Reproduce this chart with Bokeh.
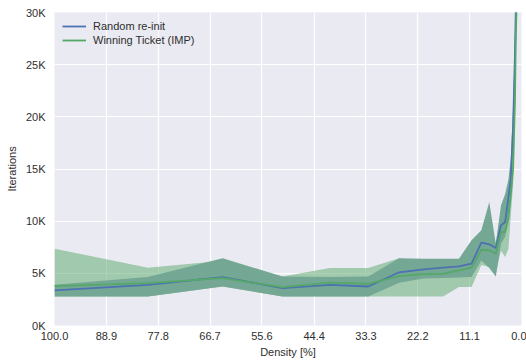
from bokeh.plotting import figure
from bokeh.models import Range1d, FixedTicker, Legend, LegendItem
from bokeh.embed import file_html
from bokeh.resources import INLINE

# Density of the remaining weights after each pruning round [%]
density = [100.0, 80.0, 64.0, 51.2, 41.0, 32.8, 26.2, 21.0, 16.8, 13.4, 10.7,
           8.6, 6.9, 5.5, 4.4, 3.5, 2.8, 2.3, 1.8, 1.4, 1.2, 0.9]

# Random re-init: mean iterations and spread
random_mean = [3360, 3900, 4640, 3580, 3900, 3740, 5100, 5380, 5540, 5660, 5920,
               7940, 7780, 7420, 9600, 9920, 12300, 14000, 19000, 26000, 31000, 37000]
random_low = [2780, 2780, 3740, 2780, 2780, 2780, 4100, 4500, 4550, 4600, 4640,
              6240, 5500, 4700, 7800, 8500, 10500, 12500, 17500, 24000, 29500, 35000]
random_high = [3900, 4640, 6450, 4700, 4650, 4700, 6450, 6400, 6400, 6400, 8160,
               9120, 11840, 7800, 11500, 12600, 14000, 16000, 21000, 28000, 33000, 39000]

# Winning ticket (IMP): mean iterations and spread
ticket_mean = [3780, 4060, 4540, 3680, 4100, 4000, 4740, 4930, 4960, 5280, 5540,
               7260, 7200, 6880, 8960, 8960, 10300, 12500, 15000, 21500, 28000, 33000]
ticket_low = [2780, 2780, 3740, 2780, 2780, 2780, 2780, 2780, 2780, 3680, 3680,
              5800, 5600, 5000, 7200, 6560, 7360, 10500, 13500, 19500, 26000, 31000]
ticket_high = [7360, 5540, 6200, 4700, 5500, 5500, 6450, 6000, 6000, 6000, 7000,
               8500, 8500, 8000, 11000, 10500, 12500, 14500, 17000, 23500, 30000, 35000]

x_tick_labels = ["100.0", "88.9", "77.8", "66.7", "55.6", "44.4", "33.3", "22.2", "11.1", "0.0"]
y_ticks = [0, 5000, 10000, 15000, 20000, 25000, 30000]
y_tick_labels = ["0K", "5K", "10K", "15K", "20K", "25K", "30K"]

BLUE = "#4C72B0"
GREEN = "#55A868"
TEAL = "#74A794"
TEXT = "#2E2E2E"
FONT = "Liberation Sans"

p = figure(width=526, height=360, output_backend="svg", toolbar_location=None,
           x_range=Range1d(100, 0), y_range=Range1d(0, 30000),
           min_border_left=54, min_border_right=5, min_border_top=12, min_border_bottom=35)

p.background_fill_color = "#EAEAF2"
p.border_fill_color = "white"
p.outline_line_color = None

for g in (p.xgrid, p.ygrid):
    g.grid_line_color = "white"
    g.grid_line_width = 1.2

x_ticks = [float(s) for s in x_tick_labels]
p.xaxis.ticker = FixedTicker(ticks=x_ticks)
p.xaxis.major_label_overrides = {t: s for t, s in zip(x_ticks, x_tick_labels)}
p.yaxis.ticker = FixedTicker(ticks=y_ticks)
p.yaxis.major_label_overrides = {t: s for t, s in zip(y_ticks, y_tick_labels)}

for ax in (p.xaxis[0], p.yaxis[0]):
    ax.axis_line_color = None
    ax.major_tick_line_color = None
    ax.minor_tick_line_color = None
    ax.major_tick_out = 0
    ax.major_tick_in = 0
    ax.major_label_text_font = FONT
    ax.major_label_text_font_size = "11px"
    ax.major_label_text_color = TEXT
    ax.axis_label_text_font = FONT
    ax.axis_label_text_font_size = "11px"
    ax.axis_label_text_font_style = "normal"
    ax.axis_label_text_color = TEXT

p.xaxis.axis_label = "Density [%]"
p.yaxis.axis_label = "Iterations"
p.xaxis.major_label_standoff = 6
p.xaxis.axis_label_standoff = 3
p.yaxis.major_label_standoff = 9
p.yaxis.axis_label_standoff = 5

p.varea(x=density, y1=ticket_low, y2=ticket_high, fill_color=GREEN, fill_alpha=0.5)
p.varea(x=density, y1=random_low, y2=random_high, fill_color=TEAL, fill_alpha=1.0)

r_rand = p.line(density, random_mean, line_color=BLUE, line_width=1.8)
r_tick = p.line(density, ticket_mean, line_color=GREEN, line_width=1.8)

legend = Legend(items=[LegendItem(label="Random re-init", renderers=[r_rand]),
                       LegendItem(label="Winning Ticket (IMP)", renderers=[r_tick])],
                location="top_left")
legend.background_fill_alpha = 0
legend.border_line_color = None
legend.margin = 8
legend.padding = 4
legend.spacing = 2
legend.glyph_width = 24
legend.glyph_height = 12
legend.label_height = 12
legend.label_standoff = 7
legend.label_text_font = FONT
legend.label_text_font_size = "11px"
legend.label_text_color = TEXT
p.add_layout(legend)

open("out.html", "w").write(file_html(p, INLINE))
